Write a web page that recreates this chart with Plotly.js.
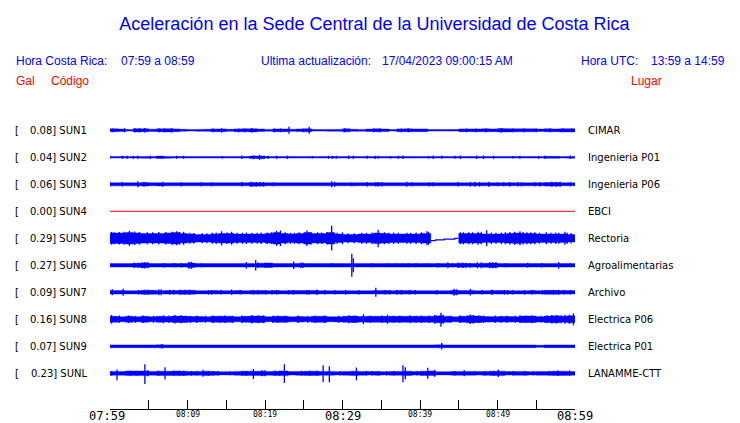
<!DOCTYPE html>
<html><head><meta charset="utf-8">
<script src="https://cdn.plot.ly/plotly-3.0.1.min.js"></script>
<style>html,body{margin:0;padding:0;background:#fff}#chart{width:740px;height:423px}</style>
</head><body><div id="chart"></div>
<script>
// ---------------- DATA ----------------
const stationCodes  = ['SUN1','SUN2','SUN3','SUN4','SUN5','SUN6','SUN7','SUN8','SUN9','SUNL'];
const stationPeaks  = ['0.08','0.04','0.06','0.00','0.29','0.27','0.09','0.16','0.07','0.23'];
const stationPlaces = ['CIMAR','Ingenieria P01','Ingenieria P06','EBCI','Rectoria','Agroalimentarias','Archivo','Electrica P06','Electrica P01','LANAMME-CTT'];

const tickMinutes = [0,5,10,15,20,25,30,35,40,45,50,55,60];
const majorTickMinutes = [0,30,60];
const majorTickLabels  = ['07:59','08:29','08:59'];
const minorTickMinutes = [10,20,40,50];
const minorTickLabels  = ['08:09','08:19','08:39','08:49'];

// envelope (half amplitude, display units) per minute since 07:59
const sun1Env = [1.5,1.3,0.8,1.6,1.5,1.1,1.5,1.6,1.4,1.0, 0.7,0.9,1.0,1.4,1.4,1.0,1.4,1.5,1.6,1.3, 0.9,1.4,1.4,1.0,1.3,1.5,0.8,0.7,0.9,0.9, 1.5,1.0,0.9,1.2,1.5,1.3,0.8,1.4,1.5,1.4, 1.4,0.8,0.7,0.7,0.8,1.4,1.4,1.4,1.5,1.4, 1.7,1.6,1.5,1.5,1.5,1.3,1.5,1.4,1.6,1.6];
const sun2Env = [0.7,0.7,0.7,0.8,0.9,0.7,1.2,0.9,0.7,0.7, 0.7,0.7,0.7,0.7,0.7,0.7,0.7,0.8,1.3,1.4, 0.7,0.7,0.7,0.7,0.7,0.7,0.7,0.7,0.7,0.7, 0.7,0.7,0.7,0.7,0.7,0.7,0.7,0.8,0.8,0.7, 0.7,0.7,0.7,0.7,0.7,0.7,0.8,0.8,0.7,0.7, 0.7,0.7,0.7,0.8,0.8,0.7,1.0,1.0,0.7,0.9];
const sun3Env = [1.5,1.5,1.5,1.5,1.8,1.5,1.6,1.5,1.5,1.5, 1.5,1.5,1.5,1.5,1.5,1.5,1.5,1.5,1.9,1.6, 1.5,1.5,1.5,1.5,1.5,1.5,1.5,1.5,1.5,1.5, 1.5,1.5,1.5,1.5,1.5,1.5,1.5,1.5,1.5,1.5, 1.5,1.5,1.5,1.5,1.5,1.5,1.5,1.5,1.5,1.5, 1.5,1.5,1.5,1.5,1.5,1.5,1.8,1.8,1.5,1.5];
const sun4Env = [0,0,0,0,0,0,0,0,0,0, 0,0,0,0,0,0,0,0,0,0, 0,0,0,0,0,0,0,0,0,0, 0,0,0,0,0,0,0,0,0,0, 0,0,0,0,0,0,0,0,0,0, 0,0,0,0,0,0,0,0,0,0];
const sun5Env = [5.3,5.3,5.8,5.3,4.8,4.8,4.8,5.3,5.8,4.8, 4.3,3.8,3.8,4.3,4.8,4.8,4.3,4.3,4.3,4.3, 4.8,5.8,4.8,4.3,4.8,5.8,4.8,4.8,5.8,4.3, 3.8,3.8,4.3,4.3,5.3,4.8,4.3,4.3,4.3,4.3, 4.8,4.8,null,null,null,4.8,4.8,4.8,4.3,4.3, 4.3,4.8,5.3,4.8,4.8,4.3,4.3,4.3,4.3,3.8];
const sun6Env = [1.7,1.7,1.7,2.0,2.3,1.8,1.7,1.7,1.7,1.7, 2.3,1.7,1.7,1.7,1.7,1.7,1.7,1.8,1.7,2.0, 2.2,1.7,1.7,1.7,1.8,1.8,1.7,1.7,1.7,1.8, 1.7,1.7,1.7,1.7,1.7,1.7,1.7,1.7,1.7,1.7, 1.7,1.7,1.8,1.7,1.7,2.0,1.8,1.8,2.0,2.2, 1.7,1.7,1.7,1.7,1.7,1.7,1.7,1.7,1.8,1.7];
const sun7Env = [1.8,1.7,1.6,1.6,2.0,2.0,1.6,1.8,1.8,2.0, 2.0,1.6,1.6,1.7,1.6,1.6,1.7,1.6,1.8,1.8, 1.6,1.7,1.6,1.8,1.8,1.7,1.8,1.6,1.6,1.6, 1.6,1.6,1.6,1.6,1.8,1.8,1.6,1.8,1.8,1.6, 1.6,1.6,1.6,1.6,2.0,1.7,1.8,1.6,1.6,1.7, 1.8,1.6,1.6,1.6,1.7,1.6,2.0,2.0,1.8,1.7];
const sun8Env = [3.0,2.5,3.0,2.5,3.0,2.5,3.0,2.8,3.2,3.2, 2.8,2.8,2.5,3.0,3.0,3.0,2.5,3.0,3.2,3.2, 2.5,3.0,3.0,2.5,2.8,2.5,3.0,3.0,2.5,2.6, 3.0,3.2,2.8,3.0,3.0,3.0,3.0,3.0,3.0,3.0, 3.0,3.0,3.5,3.0,2.5,3.0,3.5,3.2,2.8,2.6, 2.8,2.8,2.6,3.2,3.2,2.6,3.2,3.5,3.0,3.5];
const sun9Env = [1.4,1.4,1.4,1.4,1.4,1.4,1.5,1.4,1.4,1.4, 1.4,1.4,1.4,1.4,1.4,1.4,1.4,1.4,1.4,1.4, 1.4,1.4,1.4,1.4,1.4,1.4,1.4,1.4,1.4,1.4, 1.4,1.4,1.4,1.4,1.4,1.4,1.4,1.4,1.4,1.4, 1.4,1.4,1.5,1.4,1.4,1.4,1.4,1.4,1.4,1.4, 1.4,1.4,1.4,1.4,1.4,1.0,1.4,1.4,1.4,1.4];
const sunLEnv = [1.9,1.9,2.3,2.3,2.3,1.9,2.1,2.1,2.3,2.1, 1.9,1.9,2.1,1.9,1.6,1.6,1.9,2.1,2.1,2.1, 1.9,2.1,2.3,1.7,1.9,2.1,2.1,1.9,1.9,1.6, 1.9,2.1,1.9,1.7,1.9,1.6,1.9,1.9,2.1,1.7, 2.1,2.3,1.6,1.6,1.9,1.9,1.9,1.7,1.9,2.1, 2.1,1.7,1.9,1.9,1.6,1.9,1.9,2.1,2.1,1.9];

// peaks: [minute, up amplitude, down amplitude (optional)]
const sun1Spikes = [[0.4,1.9],[1.9,2.0],[3.2,2.0],[3.8,1.9],[4.5,2.3],[6.4,1.9],[7.0,1.9],[8.0,2.3],[13.3,1.9],[14.4,2.2],[16.6,1.9],[17.4,1.9],[18.3,2.2],[21.2,1.9],[22.0,1.9],[23.1,3.5],[24.9,1.9],[25.7,3.5],[30.3,2.0],[34.0,1.9],[34.8,1.9],[37.6,1.9],[38.5,1.9],[46.0,1.9],[47.2,1.9],[48.5,1.9],[50.5,2.3],[52.0,1.9],[53.4,1.9],[55.0,1.9],[56.8,1.9],[58.4,1.9],[59.6,1.9]];
const sun2Spikes = [[0,1.5],[1.6,1.5],[2.2,1.5],[3.0,1.6],[3.6,1.6],[5.2,1.6],[8.6,1.5],[9.5,1.5],[14.5,1.3],[17.0,1.7],[18.5,1.9],[19.3,2.5],[20.4,1.6],[21.5,1.5],[22.9,1.7],[26.1,1.3],[28.2,1.5],[28.7,1.5],[29.2,1.5],[30.8,1.7],[31.4,1.5],[33.2,1.5],[34.2,1.6],[34.6,1.5],[36.2,1.3],[37.2,1.5],[37.8,1.7],[41.1,1.3],[41.7,1.7],[42.8,1.5],[44.5,1.5],[45.2,1.7],[47.3,1.7],[48.2,1.7],[49.5,1.5],[52.0,1.3],[52.9,1.5],[55.3,1.5],[56.1,1.5],[59.4,1.7]];
const sun3Spikes = [[0,2.3],[1.6,2.3],[3.6,3.0],[4.4,2.5],[6.8,2.5],[9.2,2.0],[11.8,2.0],[13.1,2.0],[17.0,2.3],[18.2,2.5],[18.9,2.3],[19.4,2.3],[19.8,2.3],[21.1,2.0],[28.6,3.0],[29.0,2.5],[31.2,2.0],[33.2,2.3],[34.3,2.3],[34.6,2.3],[35.1,2.3],[38.3,2.5],[39.0,2.0],[41.2,2.0],[41.7,2.0],[44.9,2.3],[46.5,2.3],[47.1,2.5],[47.7,2.3],[48.9,2.5],[50.0,2.0],[50.8,2.0],[51.6,2.3],[52.6,2.3],[53.1,2.0],[54.8,2.0],[55.5,2.3],[57.0,2.5],[57.6,2.5],[58.1,2.5],[59.4,2.0]];
const sun4Spikes = [];
const sun5Spikes = [[0.2,6.3],[0.5,6.0],[1.2,6.3],[1.8,6.5],[2.5,7.5],[3.2,6.8],[3.8,6.2],[4.8,6.0],[5.5,6.0],[6.3,6.2],[7.2,6.3],[8.0,6.5],[8.6,7.0],[9.0,6.2],[9.5,6.5],[10.3,5.5],[10.8,5.3],[11.9,5.0],[12.5,5.0],[13.2,5.5],[13.7,5.8],[14.4,7.0],[15.1,5.8],[15.7,6.5],[16.4,5.5],[17.1,5.5],[17.6,5.8],[18.3,5.5],[19.0,5.5],[19.5,5.7],[20.3,5.8],[20.8,6.0],[21.5,7.5],[22.0,7.8],[22.6,6.0],[23.3,5.5],[23.8,5.5],[24.4,6.0],[25.4,7.8],[25.9,6.2],[26.8,6.0],[27.3,5.8],[28.0,6.2],[28.6,12.5,12],[29.3,5.5],[30.0,6.0],[30.7,5.0],[31.5,5.0],[32.5,5.5],[33.1,5.5],[33.8,5.8],[34.6,8.5,9],[35.4,6.0],[36.0,5.5],[36.6,5.7],[37.2,5.5],[38.3,5.5],[38.8,5.5],[39.5,5.7],[40.2,6.0],[40.9,7.0],[41.1,6.5],[45.2,6.0],[45.6,6.0],[46.3,6.0],[46.8,6.0],[47.5,6.5],[47.9,6.0],[48.6,8.0],[49.2,5.8],[49.8,5.5],[50.5,5.8],[51.0,6.0],[51.6,6.2],[52.2,6.5],[52.9,7.0],[53.3,6.3],[53.8,6.0],[54.3,6.0],[54.8,6.0],[55.4,5.5],[56.3,6.0],[56.9,5.5],[57.5,5.7],[57.9,5.5],[58.7,6.5],[59.0,5.5],[59.5,5.3]];
const sun6Spikes = [[3.1,2.5],[3.7,2.5],[4.2,3.0],[4.5,3.3],[4.9,3.0],[6.9,2.3],[8.3,2.3],[9.2,2.3],[10.2,3.5],[10.5,3.5],[11.8,2.0],[17.6,3.3],[18.8,5.3],[19.1,2.8],[20.0,2.5],[20.4,2.5],[23.7,3.7],[24.6,2.7],[24.9,2.7],[28.7,2.0],[31.2,11.5],[31.4,7.0],[33.8,2.0],[36.0,2.0],[36.8,2.0],[37.8,2.0],[38.5,2.0],[39.5,2.0],[40.9,2.0],[42.3,2.3],[43.6,3.0],[44.2,2.0],[44.9,2.7],[45.5,2.7],[46.0,2.3],[46.5,2.3],[47.4,3.0],[47.9,3.0],[49.0,3.0],[49.4,3.0],[49.8,3.0],[51.0,2.0],[53.9,2.5],[55.7,2.3],[57.9,3.3],[59.4,2.0]];
const sun7Spikes = [[0.3,3.0],[1.7,3.5],[3.7,2.3],[4.5,2.5],[4.9,2.5],[6.3,3.0],[6.6,3.0],[7.7,2.5],[8.2,2.5],[9.0,2.5],[9.7,2.5],[10.3,2.5],[12.7,2.3],[13.1,2.3],[14.3,2.3],[15.7,2.7],[16.8,2.3],[18.5,2.3],[19.1,2.3],[20.1,2.3],[20.9,2.3],[21.5,2.3],[23.0,2.3],[23.7,2.3],[25.4,2.3],[25.7,2.3],[26.7,2.7],[27.7,2.3],[29.0,2.3],[30.4,2.3],[32.1,2.3],[34.3,4.5],[35.5,2.3],[36.1,2.3],[37.0,2.3],[37.6,2.3],[38.6,2.3],[39.4,2.3],[42.2,2.3],[44.4,3.5],[44.7,3.0],[46.5,3.3],[48.0,2.3],[49.3,2.8],[50.9,2.3],[51.3,2.3],[52.0,2.3],[53.5,2.3],[54.5,2.3],[55.8,2.3],[57.2,2.3],[57.9,2.3],[58.6,2.3],[59.4,2.3]];
const sun8Spikes = [[0.2,4.3],[1.2,3.8],[2.4,3.8],[3.3,3.5],[4.3,3.8],[5.6,3.5],[6.9,4.0],[7.6,3.8],[8.4,4.2],[9.2,4.0],[10.4,3.5],[11.2,3.8],[12.3,3.5],[13.3,3.8],[14.2,3.5],[14.8,3.8],[15.8,3.5],[17.0,3.8],[18.3,4.2],[19.1,4.0],[19.8,3.8],[21.0,3.5],[21.7,3.8],[22.6,3.5],[24.3,3.8],[25.5,3.5],[26.5,3.8],[27.7,3.8],[29.5,3.5],[30.8,4.0],[31.5,3.8],[32.7,5.0],[33.6,3.5],[35.1,3.8],[35.8,4.5],[36.6,3.5],[37.4,3.8],[38.7,4.0],[39.5,3.5],[40.2,3.8],[41.2,3.8],[41.9,4.5],[42.7,6.5,7.5],[43.0,4.5],[44.0,3.5],[45.2,3.8],[46.5,4.8],[46.9,4.3],[47.6,3.8],[48.2,3.8],[49.7,3.8],[50.5,3.5],[51.2,3.8],[52.3,3.5],[52.9,4.0],[53.7,3.8],[54.4,4.0],[55.6,3.5],[56.4,3.8],[57.0,4.2],[57.6,4.2],[58.2,4.0],[58.7,4.5],[59.3,4.5],[59.8,6.0]];
const sun9Spikes = [[6.7,2.3],[42.8,3.3]];
const sunLSpikes = [[0.2,2.3],[0.9,3.7,7.0],[2.6,2.5],[3.4,2.5],[4.5,9.0,10.7],[4.9,3.0],[6.2,2.5],[7.1,6.0],[8.2,2.5],[9.0,2.5],[9.5,2.5],[10.5,2.3],[11.2,2.3],[12.0,3.5],[12.7,2.3],[13.3,2.3],[14.0,2.0],[15.5,2.0],[17.0,2.3],[17.6,2.3],[18.5,4.3,5.7],[19.6,3.0],[20.0,3.0],[21.3,2.5],[21.9,2.5],[22.5,9.0,9.7],[24.7,2.5],[25.8,2.5],[26.7,2.5],[27.5,8.0,9.0],[28.3,7.0,9.0],[29.7,2.3],[31.8,5.7,7.0],[33.1,2.3],[33.8,2.3],[34.6,2.3],[35.7,2.3],[36.6,2.3],[37.8,8.0,9.0],[38.1,6.0],[39.6,2.3],[41.0,5.5],[41.9,3.5],[44.5,2.3],[45.7,3.0],[47.1,2.3],[48.4,2.3],[49.5,2.3],[50.1,3.7],[52.0,2.3],[53.5,2.3],[54.6,2.3],[56.7,2.3],[57.8,2.8],[59.3,2.8]];

// SUN5 data gap (minutes) and the straight connection drawn across it
const sun5Gap = [41.4, 44.95];
const sun5GapLineT = [41.4, 42.0, 42.0, 43.1, 43.1, 44.5, 44.5, 44.95];
const sun5GapLineV = [-2.4, -2.4, -1.6, -1.6, -0.8, -0.8, 0.0, 0.0];

const envelopes = [sun1Env,sun2Env,sun3Env,sun4Env,sun5Env,sun6Env,sun7Env,sun8Env,sun9Env,sunLEnv];
const spikes    = [sun1Spikes,sun2Spikes,sun3Spikes,sun4Spikes,sun5Spikes,sun6Spikes,sun7Spikes,sun8Spikes,sun9Spikes,sunLSpikes];
const gaps      = [null,null,null,null,sun5Gap,null,null,null,null,null];

// ---------------- LAYOUT GEOMETRY ----------------
const W = 740, H = 423, PL = 110, PR = 575, PT = 100, PB = 409;
const BLUE = '#0000ff', RED = '#ff0000';
const traceColors = [BLUE,BLUE,BLUE,RED,BLUE,BLUE,BLUE,BLUE,BLUE,BLUE];
const firstRowPx = 130.3, rowStepPx = 27;
const majorLabelShift = [-3, 0, 0];
function px2x(px){ return (px - PL) / (PR - PL); }
function py2y(py){ return (PB - py) / (PB - PT); }
function rowOffset(i){ return PB - (firstRowPx + rowStepPx * i); }

const data = [];
envelopes.forEach((env, i) => {
  const off = rowOffset(i);
  const col = traceColors[i];
  const gap = gaps[i];
  const allZero = env.every(v => v === 0);
  if (allZero) {
    data.push({type:'scatter', mode:'lines', x:[0, env.length], y:[off, off],
      line:{color:col, width:1, simplify:false}, hoverinfo:'skip'});
    return;
  }
  // band polygons, one closed step outline per run of samples
  let j = 0;
  while (j < env.length) {
    if (env[j] === null) { j++; continue; }
    let k = j;
    while (k + 1 < env.length && env[k + 1] !== null) k++;
    const up = [], lo = [];
    for (let b = j; b <= k; b++) {
      let x0 = b, x1 = b + 1;
      if (gap) {
        if (x0 < gap[0] && x1 > gap[0]) x1 = gap[0];
        if (x0 < gap[1] && x1 > gap[1]) x0 = gap[1];
      }
      up.push([x0, off + env[b]], [x1, off + env[b]]);
      lo.push([x0, off - env[b]], [x1, off - env[b]]);
    }
    lo.reverse();
    const pts = up.concat(lo);
    pts.push(up[0]);
    data.push({type:'scatter', mode:'lines', x:pts.map(p => p[0]), y:pts.map(p => p[1]),
      fill:'toself', fillcolor:col, line:{color:col, width:0.4, simplify:false}, hoverinfo:'skip'});
    j = k + 1;
  }
  // spikes
  const sx = [], sy = [];
  spikes[i].forEach(s => {
    const upA = s[1], dnA = (s.length > 2 ? s[2] : s[1]);
    sx.push(s[0], s[0], null); sy.push(off + upA, off - dnA, null);
  });
  if (sx.length) data.push({type:'scatter', mode:'lines', x:sx, y:sy,
    line:{color:col, width:1.3, simplify:false}, hoverinfo:'skip'});
  if (gap) {
    data.push({type:'scatter', mode:'lines', x:sun5GapLineT, y:sun5GapLineV.map(v => off + v),
      line:{color:col, width:1.2, simplify:false}, hoverinfo:'skip'});
  }
});

// ---------------- ANNOTATIONS ----------------
const ann = [];
function addText(text, px, py, anchor, font){
  ann.push({text:text, xref:'paper', yref:'paper', x:px2x(px), y:py2y(py),
    xanchor:anchor, yanchor:'middle', showarrow:false, borderpad:0, font:font});
}
const hdrFont = {family:'Liberation Sans, Arial, sans-serif', size:12, color:BLUE};
const redFont = {family:'Liberation Sans, Arial, sans-serif', size:12, color:RED};
const lblFont = {family:'DejaVu Sans, sans-serif', size:10, color:'#000'};

addText('Hora Costa Rica:', 15, 61, 'left', hdrFont);
addText('07:59 a 08:59', 120, 61, 'left', hdrFont);
addText('Ultima actualización:', 260, 61, 'left', hdrFont);
addText('17/04/2023 09:00:15 AM', 381, 61, 'left', hdrFont);
addText('Hora UTC:', 580, 61, 'left', hdrFont);
addText('13:59 a 14:59', 650, 61, 'left', hdrFont);
addText('Gal', 15, 81, 'left', redFont);
addText('Código', 50, 81, 'left', redFont);
addText('Lugar', 630, 81, 'left', redFont);

stationCodes.forEach((c, i) => {
  const cy = firstRowPx + rowStepPx * i;
  addText('[', 13.5, cy, 'left', lblFont);
  addText(stationPeaks[i] + '] ' + c, 88, cy, 'right', lblFont);
  addText(stationPlaces[i], 587, cy, 'left', lblFont);
});

majorTickMinutes.forEach((m, i) => {
  ann.push({text:majorTickLabels[i], xref:'x', yref:'paper', x:m, y:py2y(416.3),
    xanchor:'center', yanchor:'middle', xshift:majorLabelShift[i], showarrow:false, borderpad:0,
    font:{family:'DejaVu Sans Mono, monospace', size:12, color:'#000'}});
});
minorTickMinutes.forEach((m, i) => {
  ann.push({text:minorTickLabels[i], xref:'x', yref:'paper', x:m, y:py2y(414.8),
    xanchor:'center', yanchor:'middle', showarrow:false, borderpad:0,
    font:{family:'DejaVu Sans Mono, monospace', size:8, color:'#000'}});
});

const layout = {
  width:W, height:H,
  margin:{l:PL, r:W - PR, t:PT, b:H - PB, pad:0},
  paper_bgcolor:'#fff', plot_bgcolor:'#fff',
  showlegend:false,
  title:{text:'Aceleración en la Sede Central de la Universidad de Costa Rica',
    font:{family:'Liberation Sans, Arial, sans-serif', size:18, color:BLUE},
    xref:'container', yref:'container', x:374.5 / W, xanchor:'center', y:1 - 23.2 / H, yanchor:'middle'},
  xaxis:{range:[0,60], tickmode:'array', tickvals:tickMinutes, showticklabels:false,
    ticks:'inside', ticklen:9, tickwidth:1, tickcolor:'#000',
    showline:true, linecolor:'#000', linewidth:1, showgrid:false, zeroline:false,
    fixedrange:true, automargin:false},
  yaxis:{range:[0, PB - PT], visible:false, showgrid:false, zeroline:false, fixedrange:true, automargin:false},
  annotations:ann
};

Plotly.newPlot('chart', data, layout, {staticPlot:true, displayModeBar:false});
</script>
</body></html>
